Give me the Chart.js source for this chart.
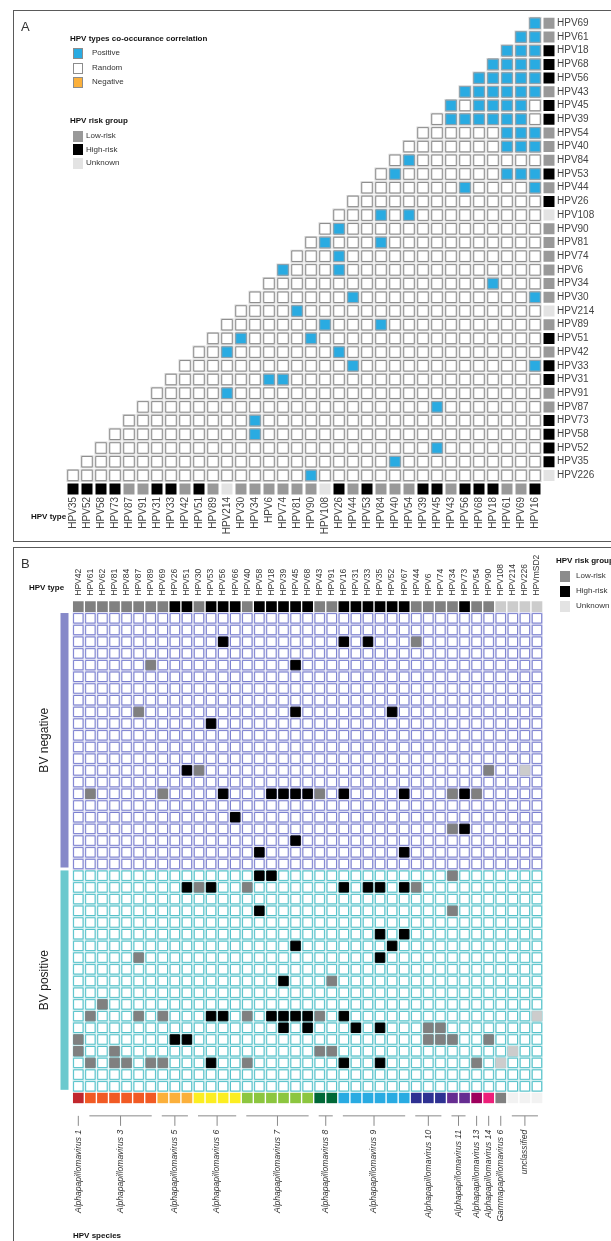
<!DOCTYPE html>
<html lang="en">
<head>
<meta charset="UTF-8">
<title>HPV co-occurrence</title>
<script src="https://cdn.jsdelivr.net/npm/chart.js@4.4.1/dist/chart.umd.min.js"></script>
<style>
  * { box-sizing: border-box; }
  body {
    margin: 0;
    width: 611px;
    height: 1241px;
    position: relative;
    overflow: hidden;
    background: #fff;
    font-family: 'Liberation Sans', Arial, sans-serif;
    color: #333;
  }
  .frame { position: absolute; border: 1.5px solid #5a5a5a; }
  canvas { position: absolute; left: 0; }
  .txt { position: absolute; white-space: nowrap; line-height: 1; color: #333; }
  .bold { font-weight: bold; color: #111; }
  .sw { position: absolute; width: 10.5px; height: 10.5px; }
</style>
</head>
<body>
  <div class="frame" style="left:13px;top:10px;width:640px;height:532px"></div>
  <div class="frame" style="left:13px;top:547px;width:640px;height:760px"></div>

  <canvas id="chartA" width="611" height="545" style="top:0"></canvas>
  <canvas id="chartB" width="611" height="696" style="top:545px"></canvas>

  <!-- panel A legend -->
  <div class="txt" style="left:21px;top:20px;font-size:13px">A</div>
  <div class="txt bold" style="left:70px;top:35px;font-size:8px">HPV types co-occurance correlation</div>
  <div class="sw" style="left:72.5px;top:48px;background:#29abe2;border:1px solid #8c8c8c"></div>
  <div class="txt" style="left:92px;top:49px;font-size:8px">Positive</div>
  <div class="sw" style="left:72.5px;top:63px;background:#fff;border:1px solid #8c8c8c"></div>
  <div class="txt" style="left:92px;top:64px;font-size:8px">Random</div>
  <div class="sw" style="left:72.5px;top:77px;background:#fbb03b;border:1px solid #8c8c8c"></div>
  <div class="txt" style="left:92px;top:78px;font-size:8px">Negative</div>
  <div class="txt bold" style="left:70px;top:117px;font-size:8px">HPV risk group</div>
  <div class="sw" style="left:72.5px;top:131px;background:#999"></div>
  <div class="txt" style="left:86px;top:132px;font-size:8px">Low-risk</div>
  <div class="sw" style="left:72.5px;top:144px;background:#000"></div>
  <div class="txt" style="left:86px;top:145.5px;font-size:8px">High-risk</div>
  <div class="sw" style="left:72.5px;top:158px;background:#e3e3e3"></div>
  <div class="txt" style="left:86px;top:159px;font-size:8px">Unknown</div>
  <div class="txt bold" style="left:31px;top:513px;font-size:8px">HPV type</div>

  <!-- panel B legend -->
  <div class="txt" style="left:21px;top:557px;font-size:13px">B</div>
  <div class="txt bold" style="left:29px;top:584px;font-size:8px">HPV type</div>
  <div class="txt bold" style="left:556px;top:557px;font-size:8px">HPV risk group</div>
  <div class="sw" style="left:559.5px;top:571px;background:#8c8c8c"></div>
  <div class="txt" style="left:576px;top:572px;font-size:8px">Low-risk</div>
  <div class="sw" style="left:559.5px;top:586px;background:#000"></div>
  <div class="txt" style="left:576px;top:587px;font-size:8px">High-risk</div>
  <div class="sw" style="left:559.5px;top:601px;background:#e3e3e3"></div>
  <div class="txt" style="left:576px;top:602px;font-size:8px">Unknown</div>
  <div class="txt bold" style="left:73px;top:1232px;font-size:8px">HPV species</div>

<script>
  // ---------- panel A: co-occurrence triangle ----------
  const colsA = ['HPV35', 'HPV52', 'HPV58', 'HPV73', 'HPV87', 'HPV91', 'HPV31', 'HPV33', 'HPV42', 'HPV51', 'HPV89', 'HPV214',
    'HPV30', 'HPV34', 'HPV6', 'HPV74', 'HPV81', 'HPV90', 'HPV108', 'HPV26', 'HPV44', 'HPV53', 'HPV84', 'HPV40', 'HPV54',
    'HPV39', 'HPV45', 'HPV43', 'HPV56', 'HPV68', 'HPV18', 'HPV61', 'HPV69', 'HPV16'];
  const rowsA = ['HPV69', 'HPV61', 'HPV18', 'HPV68', 'HPV56', 'HPV43', 'HPV45', 'HPV39', 'HPV54', 'HPV40', 'HPV84', 'HPV53',
    'HPV44', 'HPV26', 'HPV108', 'HPV90', 'HPV81', 'HPV74', 'HPV6', 'HPV34', 'HPV30', 'HPV214', 'HPV89', 'HPV51', 'HPV42',
    'HPV33', 'HPV31', 'HPV91', 'HPV87', 'HPV73', 'HPV58', 'HPV52', 'HPV35', 'HPV226'];
  // positive co-occurrence partners, one list per row of rowsA
  const positiveA = [
    ['HPV16'],
    ['HPV16', 'HPV69'],
    ['HPV16', 'HPV69', 'HPV61'],
    ['HPV16', 'HPV69', 'HPV61', 'HPV18'],
    ['HPV16', 'HPV69', 'HPV61', 'HPV18', 'HPV68'],
    ['HPV16', 'HPV69', 'HPV61', 'HPV18', 'HPV68', 'HPV56'],
    ['HPV69', 'HPV61', 'HPV18', 'HPV68', 'HPV43'],
    ['HPV69', 'HPV61', 'HPV18', 'HPV68', 'HPV56', 'HPV43'],
    ['HPV16', 'HPV69', 'HPV61'],
    ['HPV16', 'HPV69', 'HPV61'],
    ['HPV54'],
    ['HPV40', 'HPV16', 'HPV69', 'HPV61'],
    ['HPV56', 'HPV16'],
    [],
    ['HPV84', 'HPV54'],
    ['HPV26'],
    ['HPV108', 'HPV84'],
    ['HPV26'],
    ['HPV74', 'HPV26'],
    ['HPV18'],
    ['HPV44', 'HPV16'],
    ['HPV81'],
    ['HPV108', 'HPV84'],
    ['HPV30', 'HPV90'],
    ['HPV214', 'HPV26'],
    ['HPV44', 'HPV16'],
    ['HPV6', 'HPV74'],
    ['HPV214'],
    ['HPV45'],
    ['HPV34'],
    ['HPV34'],
    ['HPV45'],
    ['HPV40'],
    ['HPV90']
  ];

  // risk groups
  const highRisk = ['HPV16', 'HPV18', 'HPV26', 'HPV31', 'HPV33', 'HPV35', 'HPV39', 'HPV45', 'HPV51', 'HPV52', 'HPV53',
    'HPV56', 'HPV58', 'HPV66', 'HPV67', 'HPV68', 'HPV73'];
  const lowRisk = ['HPV6', 'HPV30', 'HPV34', 'HPV40', 'HPV42', 'HPV43', 'HPV44', 'HPV54', 'HPV61', 'HPV62', 'HPV69',
    'HPV74', 'HPV81', 'HPV84', 'HPV87', 'HPV89', 'HPV90', 'HPV91'];
  const unknownRisk = ['HPV108', 'HPV214', 'HPV226', 'HPVmSD2'];

  // ---------- panel B: presence per sample ----------
  const colsB = ['HPV42', 'HPV61', 'HPV62', 'HPV81', 'HPV84', 'HPV87', 'HPV89', 'HPV69', 'HPV26', 'HPV51', 'HPV30', 'HPV53',
    'HPV56', 'HPV66', 'HPV40', 'HPV58', 'HPV18', 'HPV39', 'HPV45', 'HPV68', 'HPV43', 'HPV91', 'HPV16', 'HPV31', 'HPV33',
    'HPV35', 'HPV52', 'HPV67', 'HPV44', 'HPV6', 'HPV74', 'HPV34', 'HPV73', 'HPV54', 'HPV90', 'HPV108', 'HPV214', 'HPV226',
    'HPVmSD2'];
  const bvNegative = [
    [],
    [],
    ['HPV56', 'HPV16', 'HPV33', 'HPV44'],
    [],
    ['HPV89', 'HPV45'],
    [],
    [],
    [],
    ['HPV87', 'HPV45', 'HPV52'],
    ['HPV53'],
    [],
    [],
    [],
    ['HPV51', 'HPV30', 'HPV90', 'HPV226'],
    [],
    ['HPV61', 'HPV69', 'HPV56', 'HPV18', 'HPV39', 'HPV45', 'HPV68', 'HPV43', 'HPV16', 'HPV67', 'HPV34', 'HPV73', 'HPV54'],
    [],
    ['HPV66'],
    ['HPV34', 'HPV73'],
    ['HPV45'],
    ['HPV58', 'HPV67'],
    []
  ];
  const bvPositive = [
    ['HPV58', 'HPV18', 'HPV34'],
    ['HPV51', 'HPV30', 'HPV53', 'HPV40', 'HPV16', 'HPV33', 'HPV35', 'HPV67', 'HPV44'],
    [],
    ['HPV58', 'HPV34'],
    [],
    ['HPV35', 'HPV67'],
    ['HPV45', 'HPV52'],
    ['HPV87', 'HPV35'],
    [],
    ['HPV39', 'HPV91'],
    [],
    ['HPV62'],
    ['HPV61', 'HPV87', 'HPV69', 'HPV53', 'HPV56', 'HPV40', 'HPV18', 'HPV39', 'HPV45', 'HPV68', 'HPV43', 'HPV16', 'HPVmSD2'],
    ['HPV39', 'HPV68', 'HPV31', 'HPV35', 'HPV6', 'HPV74'],
    ['HPV42', 'HPV26', 'HPV51', 'HPV6', 'HPV74', 'HPV34', 'HPV90'],
    ['HPV42', 'HPV81', 'HPV43', 'HPV91', 'HPV214'],
    ['HPV61', 'HPV81', 'HPV84', 'HPV89', 'HPV69', 'HPV53', 'HPV40', 'HPV16', 'HPV35', 'HPV54', 'HPV108'],
    [],
    []
  ];

  const speciesNames = ['Alphapapillomavirus 1', 'Alphapapillomavirus 3', 'Alphapapillomavirus 5', 'Alphapapillomavirus 6',
    'Alphapapillomavirus 7', 'Alphapapillomavirus 8', 'Alphapapillomavirus 9', 'Alphapapillomavirus 10',
    'Alphapapillomavirus 11', 'Alphapapillomavirus 13', 'Alphapapillomavirus 14', 'Gammapapillomavirus 6', 'unclassified'];
  const speciesCounts = [1, 6, 3, 4, 6, 2, 6, 3, 2, 1, 1, 1, 3];
  const speciesColors = ['#c1272d', '#f15a24', '#fbb03b', '#fcee21', '#8cc63f', '#006837', '#29abe2', '#2e3192',
    '#662d91', '#9e005d', '#ed1e79', '#808080', '#f2f2f2'];

  const FONT = "'Liberation Sans', Arial, sans-serif";
  Chart.defaults.font.family = FONT;

  // rect point of a given side length
  const side = s => s / Math.SQRT2;

  function riskA(t) {
    if (highRisk.includes(t)) return '#000000';
    if (unknownRisk.includes(t)) return '#e3e3e3';
    return '#999999';
  }
  function riskB(t) {
    if (highRisk.includes(t)) return '#000000';
    if (unknownRisk.includes(t)) return '#cccccc';
    return '#808080';
  }

  // ---------- build panel A ----------
  const nA = colsA.length;
  const lastRow = rowsA.length - 1;
  const gridA = [], blueA = [];
  rowsA.forEach((name, r) => {
    const y = lastRow - r;
    for (let c = nA - 1 - r; c < nA; c++) gridA.push({x: c, y: y});
    positiveA[r].forEach(t => blueA.push({x: colsA.indexOf(t), y: y}));
  });
  const riskBottomA = colsA.map((t, c) => ({x: c, y: -1}));
  const riskRightA = rowsA.map((t, r) => ({x: nA, y: lastRow - r}));

  new Chart(document.getElementById('chartA'), {
    type: 'scatter',
    data: {
      datasets: [
        {data: gridA, order: 4, pointStyle: 'rect', pointRadius: side(13), pointBackgroundColor: '#d4d4d4', pointBorderWidth: 0},
        {data: gridA, order: 3, pointStyle: 'rect', pointRadius: side(10.5), pointBackgroundColor: '#ffffff',
          pointBorderColor: '#8a8a8a', pointBorderWidth: 1},
        {data: blueA, order: 2, pointStyle: 'rect', pointRadius: side(10.5), pointBackgroundColor: '#29abe2',
          pointBorderColor: '#8fa4b0', pointBorderWidth: 1},
        {data: riskBottomA, order: 1, pointStyle: 'rect', pointRadius: side(11), pointBorderWidth: 0,
          pointBackgroundColor: colsA.map(riskA)},
        {data: riskRightA, order: 1, pointStyle: 'rect', pointRadius: side(11), pointBorderWidth: 0,
          pointBackgroundColor: rowsA.map(riskA)}
      ]
    },
    options: {
      responsive: false,
      animation: false,
      devicePixelRatio: 1,
      events: [],
      layout: {padding: {left: 66, top: 16.45, right: 0, bottom: 0}},
      plugins: {legend: {display: false}, tooltip: {enabled: false}},
      scales: {
        x: {
          type: 'linear', position: 'bottom', min: -0.5, max: nA + 0.5,
          grid: {display: false, drawTicks: false}, border: {display: false},
          afterBuildTicks: s => { s.ticks = colsA.map((_, i) => ({value: i})); },
          afterFit: s => { s.height = 49.05; },
          ticks: {autoSkip: false, minRotation: 90, maxRotation: 90, padding: 1, color: '#444',
            font: {size: 10}, callback: v => colsA[v]}
        },
        y: {
          type: 'linear', position: 'right', min: -1.5, max: lastRow + 0.5,
          grid: {display: false, drawTicks: false}, border: {display: false},
          afterBuildTicks: s => { s.ticks = rowsA.map((_, r) => ({value: lastRow - r})); },
          afterFit: s => { s.width = 55; },
          ticks: {autoSkip: false, padding: 1, color: '#444', font: {size: 10}, callback: v => rowsA[lastRow - v]}
        }
      }
    }
  });

  // ---------- build panel B ----------
  const samples = bvNegative.concat(bvPositive);
  const nNeg = bvNegative.length;
  const nB = colsB.length;
  const gridB = [], haloColors = [], edgeColors = [], hitsB = [], hitColors = [];
  samples.forEach((types, i) => {
    colsB.forEach((t, c) => {
      gridB.push({x: c, y: i});
      haloColors.push(i < nNeg ? '#c8cae9' : '#b4e3e6');
      edgeColors.push(i < nNeg ? '#7c81d0' : '#55c2ca');
    });
    types.forEach(t => {
      hitsB.push({x: colsB.indexOf(t), y: i});
      hitColors.push(riskB(t));
    });
  });
  const riskRowB = colsB.map((t, c) => ({x: c, y: -1}));
  const speciesRow = [], speciesCellColors = [], speciesCenters = [];
  let colStart = 0;
  speciesCounts.forEach((n, g) => {
    for (let k = 0; k < n; k++) {
      speciesRow.push({x: colStart + k, y: samples.length});
      speciesCellColors.push(speciesColors[g]);
    }
    speciesCenters.push(colStart + (n - 1) / 2);
    colStart += n;
  });

  const groupPlugin = {
    id: 'groups',
    afterDraw(chart) {
      const {ctx, scales, chartArea} = chart;
      const x = scales.x, y = scales.y;
      const groups = [
        {label: 'BV negative', from: 0, to: nNeg - 1, color: '#8689c9'},
        {label: 'BV positive', from: nNeg, to: samples.length - 1, color: '#6bc9ce'}
      ];
      groups.forEach(g => {
        const y0 = y.getPixelForValue(g.from - 0.45);
        const y1 = y.getPixelForValue(g.to + 0.3);
        ctx.fillStyle = g.color;
        ctx.fillRect(60.5, y0, 8, y1 - y0);
        ctx.save();
        ctx.translate(45, (y0 + y1) / 2);
        ctx.rotate(-Math.PI / 2);
        ctx.textAlign = 'center';
        ctx.textBaseline = 'middle';
        ctx.font = '12px ' + FONT;
        ctx.fillStyle = '#222';
        ctx.fillText(g.label, 0, 0);
        ctx.restore();
      });
      // species brackets
      const lineY = chartArea.bottom + 12;
      ctx.strokeStyle = '#8a8a8a';
      ctx.lineWidth = 1;
      let s = 0;
      speciesCounts.forEach(n => {
        const x0 = x.getPixelForValue(s), x1 = x.getPixelForValue(s + n - 1), xc = (x0 + x1) / 2;
        ctx.beginPath();
        if (n > 1) { ctx.moveTo(x0 - 1, lineY); ctx.lineTo(x1 + 1, lineY); }
        ctx.moveTo(xc, lineY);
        ctx.lineTo(xc, lineY + 10);
        ctx.stroke();
        s += n;
      });
    }
  };

  new Chart(document.getElementById('chartB'), {
    type: 'scatter',
    data: {
      datasets: [
        {data: gridB, order: 4, pointStyle: 'rect', pointRadius: side(11.4), pointBackgroundColor: haloColors, pointBorderWidth: 0},
        {data: gridB, order: 3, pointStyle: 'rect', pointRadius: side(9.4), pointBackgroundColor: '#ffffff',
          pointBorderColor: edgeColors, pointBorderWidth: 1},
        {data: hitsB, order: 2, pointStyle: 'rect', pointRadius: side(9.4), pointBackgroundColor: hitColors,
          pointBorderColor: hitColors, pointBorderWidth: 1},
        {data: riskRowB, order: 1, pointStyle: 'rect', pointRadius: side(10.7), pointBorderWidth: 0,
          pointBackgroundColor: colsB.map(riskB)},
        {data: speciesRow, order: 1, pointStyle: 'rect', pointRadius: side(10.7), pointBorderWidth: 0,
          pointBackgroundColor: speciesCellColors}
      ]
    },
    options: {
      responsive: false,
      animation: false,
      devicePixelRatio: 1,
      events: [],
      layout: {padding: {left: 72.27, top: 0, right: 68, bottom: 0}},
      plugins: {legend: {display: false}, tooltip: {enabled: false}},
      scales: {
        x: {
          type: 'linear', position: 'top', min: -0.5, max: nB - 0.5,
          grid: {display: false, drawTicks: false}, border: {display: false},
          afterBuildTicks: s => { s.ticks = colsB.map((_, i) => ({value: i})); },
          afterFit: s => { s.height = 55.75; },
          // rotated labels on a top axis sit one line height to the left, push them back
          ticks: {autoSkip: false, minRotation: 90, maxRotation: 90, padding: 5, labelOffset: 10.2, color: '#333',
            font: {size: 8.5}, callback: v => colsB[v]}
        },
        x2: {
          type: 'linear', position: 'bottom', min: -0.5, max: nB - 0.5,
          grid: {display: false, drawTicks: false}, border: {display: false},
          afterBuildTicks: s => { s.ticks = speciesCenters.map(v => ({value: v})); },
          afterFit: s => { s.height = 137.15; },
          ticks: {autoSkip: false, minRotation: 90, maxRotation: 90, padding: 26, color: '#333',
            font: {size: 8.5, style: 'italic'}, callback: (v, i) => speciesNames[i]}
        },
        y: {type: 'linear', display: false, reverse: true, min: -1.5, max: samples.length + 0.5}
      }
    },
    plugins: [groupPlugin]
  });
</script>
</body>
</html>
